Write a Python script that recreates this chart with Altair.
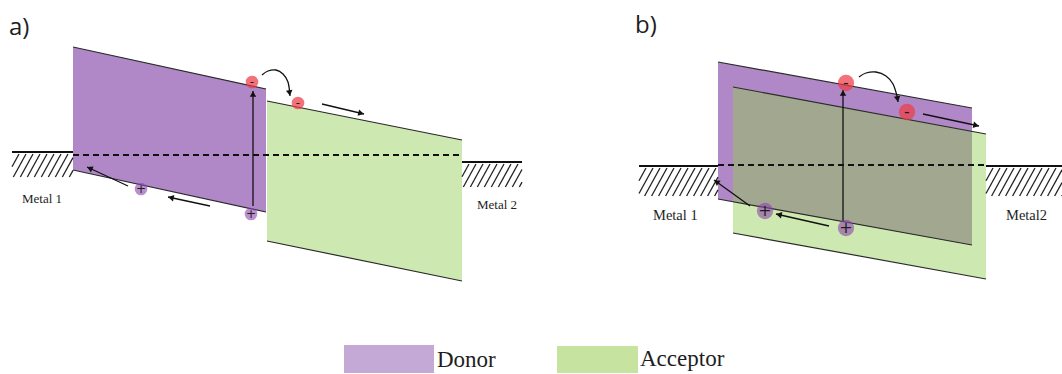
import math

import altair as alt
import pandas as pd

W, H = 1062, 374

# ---------------------------------------------------------------------------
# Energy-band parallelograms (vertical sides): left/right x, top and bottom
# edge heights at the left and right side.
band_panel = ["a", "a", "b", "b", "b"]
band_kind = ["donor", "acceptor", "donor", "acceptor", "overlap"]
band_x0 = [73, 267, 718, 733, 733]
band_x1 = [266, 462, 972, 986, 972]
band_top0 = [47, 101, 62, 87, 87]
band_top1 = [89, 140, 108, 134, 131]
band_bot0 = [170, 241, 199, 233, 202]
band_bot1 = [212, 281, 245, 279, 245]

# Fermi level (dashed) per panel
fermi_x0 = [73, 718]
fermi_x1 = [462, 986]
fermi_y = [155, 165]

# Metal contacts: surface line plus hatched block underneath
metal_x0 = [12, 462, 639, 986]
metal_x1 = [73, 522, 718, 1062]
metal_top = [152, 162, 166, 166]
metal_bottom = [177, 187, 196, 196]
metal_label = ["Metal 1", "Metal 2", "Metal 1", "Metal2"]
metal_label_x = [22, 477, 653, 1006]
metal_label_y = [203, 209, 220, 220]
metal_label_size = [13, 13, 14.5, 14.5]

# Charge carriers
carrier_x = [252, 298, 141, 251, 846, 907, 765, 846]
carrier_y = [82, 103, 189, 214, 83, 112, 211, 228]
carrier_sign = ["-", "-", "+", "+", "-", "-", "+", "+"]
carrier_panel = ["a", "a", "a", "a", "b", "b", "b", "b"]

# Straight arrows: start -> tip
arrow_x0 = [253, 322, 210, 128, 843, 923, 829, 750]
arrow_y0 = [206, 104, 206, 186, 221, 114, 226, 206]
arrow_x1 = [253, 364, 168, 87, 843, 979, 776, 714]
arrow_y1 = [91, 114, 197, 167, 90, 126, 214, 180]

# Curved transfer arrows (donor -> acceptor), listed as path points
curve_id = ["a"] * 6 + ["b"] * 7
curve_x = [262, 268, 276, 283, 288, 290, 859, 866, 876, 886, 893, 897, 898]
curve_y = [75, 71, 70, 74, 82, 96, 77, 73, 72, 76, 84, 96, 102]

# Legend
legend_names = ["Donor", "Acceptor"]
legend_x0 = [344, 557]
legend_x1 = [434, 638]
legend_y0 = [345, 346]
legend_y1 = [373, 373]
legend_text_x = [437, 640]
legend_text_y = [367, 366]

panel_tags = ["a)", "b)"]
panel_tag_x = [9, 635]
panel_tag_y = [35, 33]

FILL = {"donor": "#B088C8", "acceptor": "#CDE8B0", "overlap": "#A1A88F"}
LEGEND_FILL = ["#C4A9D7", "#C6E4A0"]
INK = "#1e1e1e"

xs = alt.Scale(domain=[0, W], nice=False, zero=False)
ys = alt.Scale(domain=[H, 0], nice=False, zero=False)


def X(f="x"):
    return alt.X(f"{f}:Q", scale=xs, axis=None)


def Y(f="y"):
    return alt.Y(f"{f}:Q", scale=ys, axis=None)


# ---- band areas ------------------------------------------------------------
area_rows = []
edge_rows = []
for p, k, x0, x1, t0, t1, b0, b1 in zip(band_panel, band_kind, band_x0, band_x1,
                                         band_top0, band_top1, band_bot0, band_bot1):
    area_rows.append(dict(panel=p, kind=k, x=x0, top=t0, bot=b0))
    area_rows.append(dict(panel=p, kind=k, x=x1, top=t1, bot=b1))
    if k != "overlap":
        edge_rows.append(dict(x=x0, y=t0, x2=x1, y2=t1))
        edge_rows.append(dict(x=x0, y=b0, x2=x1, y2=b1))
areas = pd.DataFrame(area_rows)
edges = pd.DataFrame(edge_rows)

layers = []
for kind in ["donor", "acceptor", "overlap"]:
    layers.append(
        alt.Chart(areas[areas.kind == kind])
        .mark_area(color=FILL[kind], opacity=1)
        .encode(x=X(), y=Y("top"), y2=alt.Y2("bot:Q"), detail="panel:N")
    )

layers.append(
    alt.Chart(edges).mark_rule(color="#2a2a2a", strokeWidth=1.2)
    .encode(x=X(), y=Y(), x2="x2:Q", y2="y2:Q")
)

# ---- Fermi level -----------------------------------------------------------
fermi = pd.DataFrame(dict(x=fermi_x0, x2=fermi_x1, y=fermi_y))
layers.append(
    alt.Chart(fermi).mark_rule(color="#111", strokeWidth=1.8, strokeDash=[6, 4])
    .encode(x=X(), x2="x2:Q", y=Y())
)

# ---- metals: surface line and hatching -------------------------------------
surf = pd.DataFrame(dict(x=metal_x0, x2=metal_x1, y=metal_top))
layers.append(
    alt.Chart(surf).mark_rule(color="#111", strokeWidth=1.8)
    .encode(x=X(), x2="x2:Q", y=Y())
)

hatch_rows = []
HATCH_STEP = 7.0
for x0, x1, y0, y1 in zip(metal_x0, metal_x1, metal_top, metal_bottom):
    y0h = y0 + 2
    run = (y1 - y0h) * 0.55
    xb = x0 - run
    while xb < x1:
        # segment from (xb, y1) up to (xb + run, y0h), clipped to the block
        ta = max(0.0, (x0 - xb) / run)
        tb = min(1.0, (x1 - xb) / run)
        if tb > ta:
            hatch_rows.append(dict(
                x=xb + ta * run, y=y1 - ta * (y1 - y0h),
                x2=xb + tb * run, y2=y1 - tb * (y1 - y0h)))
        xb += HATCH_STEP
hatch = pd.DataFrame(hatch_rows)
layers.append(
    alt.Chart(hatch).mark_rule(color="#222", strokeWidth=1.3)
    .encode(x=X(), y=Y(), x2="x2:Q", y2="y2:Q")
)

metal_txt = pd.DataFrame(dict(x=metal_label_x, y=metal_label_y, t=metal_label,
                              s=metal_label_size))
for s in sorted(set(metal_label_size)):
    layers.append(
        alt.Chart(metal_txt[metal_txt.s == s])
        .mark_text(font="Liberation Serif", fontSize=s, align="left",
                   baseline="alphabetic", color=INK)
        .encode(x=X(), y=Y(), text="t:N")
    )

# ---- arrows ------------------------------------------------------------------
def head_angle(dx, dy):
    return math.degrees(math.atan2(dx, -dy)) % 360


shafts = pd.DataFrame(dict(x=arrow_x0, y=arrow_y0, x2=arrow_x1, y2=arrow_y1))
layers.append(
    alt.Chart(shafts).mark_rule(color="#111", strokeWidth=1.3)
    .encode(x=X(), y=Y(), x2="x2:Q", y2="y2:Q")
)

curves = pd.DataFrame(dict(c=curve_id, x=curve_x, y=curve_y,
                           o=list(range(len(curve_x)))))
layers.append(
    alt.Chart(curves).mark_line(color="#111", strokeWidth=1.3, interpolate="cardinal")
    .encode(x=X(), y=Y(), detail="c:N", order="o:Q")
)

head_rows = []
for x0, y0, x1, y1 in zip(arrow_x0, arrow_y0, arrow_x1, arrow_y1):
    d = math.hypot(x1 - x0, y1 - y0)
    ux, uy = (x1 - x0) / d, (y1 - y0) / d
    head_rows.append(dict(x=x1 - 3 * ux, y=y1 - 3 * uy, a=head_angle(ux, uy)))
for cid in ["a", "b"]:
    pts = curves[curves.c == cid]
    xa, ya = pts.x.iloc[-2], pts.y.iloc[-2]
    xb_, yb_ = pts.x.iloc[-1], pts.y.iloc[-1]
    d = math.hypot(xb_ - xa, yb_ - ya)
    ux, uy = (xb_ - xa) / d, (yb_ - ya) / d
    head_rows.append(dict(x=xb_ - 3 * ux, y=yb_ - 3 * uy, a=head_angle(ux, uy)))
heads = pd.DataFrame(head_rows)
layers.append(
    alt.Chart(heads).mark_point(shape="triangle-up", filled=True, size=42,
                                color="#111", opacity=1)
    .encode(x=X(), y=Y(), angle=alt.Angle("a:Q", scale=None))
)

# ---- carriers ----------------------------------------------------------------
carriers = pd.DataFrame(dict(x=carrier_x, y=carrier_y, s=carrier_sign, p=carrier_panel))
for panel, size, fs in [("a", 160, 12), ("b", 265, 16)]:
    sub = carriers[carriers.p == panel]
    layers.append(
        alt.Chart(sub[sub.s == "-"]).mark_circle(size=size, color="#EF3B45", opacity=0.72)
        .encode(x=X(), y=Y())
    )
    layers.append(
        alt.Chart(sub[sub.s == "+"]).mark_circle(size=size, color="#8E44AD", opacity=0.6)
        .encode(x=X(), y=Y())
    )
    layers.append(
        alt.Chart(sub).mark_text(font="DejaVu Sans", fontSize=fs, align="center",
                                 baseline="middle", color=INK, dy=0)
        .encode(x=X(), y=Y(), text="s:N")
    )

# ---- legend ------------------------------------------------------------------
legend = pd.DataFrame(dict(name=legend_names, x=legend_x0, x2=legend_x1,
                           y=legend_y0, y2=legend_y1, tx=legend_text_x, ty=legend_text_y))
layers.append(
    alt.Chart(legend).mark_rect()
    .encode(x=X(), x2="x2:Q", y=Y(), y2="y2:Q",
            color=alt.Color("name:N", scale=alt.Scale(domain=legend_names, range=LEGEND_FILL),
                            legend=None))
)
layers.append(
    alt.Chart(legend).mark_text(font="Liberation Serif", fontSize=23, align="left",
                                baseline="alphabetic", color=INK)
    .encode(x=X("tx"), y=Y("ty"), text="name:N")
)

# ---- panel tags ---------------------------------------------------------------
tags = pd.DataFrame(dict(t=panel_tags, x=panel_tag_x, y=panel_tag_y))
layers.append(
    alt.Chart(tags).mark_text(font="Open Sans", fontSize=24, align="left",
                              baseline="alphabetic", color=INK)
    .encode(x=X(), y=Y(), text="t:N")
)

chart = (
    alt.layer(*layers)
    .properties(width=W, height=H, autosize=alt.AutoSizeParams(type="none"),
                padding=0, background="white")
    .configure_view(stroke=None)
)

chart.save("out.html", embed_options={"renderer": "svg", "actions": False})
